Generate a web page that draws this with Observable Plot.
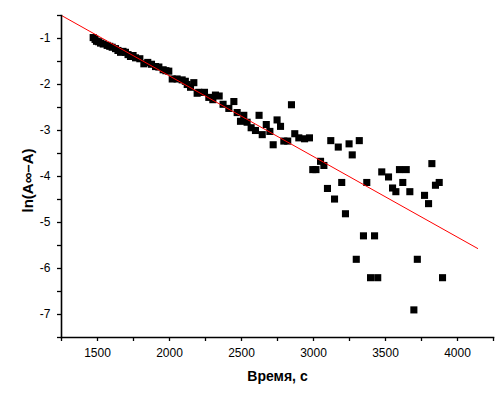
<!DOCTYPE html>
<html><head><meta charset="utf-8">
<script src="https://cdn.jsdelivr.net/npm/d3@7"></script>
<script src="https://cdn.jsdelivr.net/npm/@observablehq/plot@0.6"></script>
<style>body{margin:0;background:#fff}</style>
</head><body><div id="chart"></div>
<script>
const time = [1470,1483,1493,1507,1521,1540,1567,1585,1602,1625,1642,1660,1677,1694,1712,1729,1747,1764,1794,1822,1849,1875,1903,1926,1956,1975,1995,2019,2053,2088,2110,2123,2146,2169,2192,2203,2243,2273,2301,2319,2345,2372,2412,2447,2470,2493,2516,2539,2567,2597,2622,2644,2672,2697,2720,2747,2771,2794,2821,2847,2870,2898,2938,2972,2995,3017,3049,3072,3097,3120,3146,3172,3196,3222,3247,3269,3297,3318,3347,3370,3396,3424,3446,3474,3521,3549,3572,3597,3620,3644,3669,3697,3721,3771,3799,3822,3847,3873,3896];
const lnVal = [-0.98,-1.02,-1.06,-1.07,-1.10,-1.12,-1.15,-1.17,-1.19,-1.22,-1.26,-1.30,-1.28,-1.30,-1.35,-1.39,-1.37,-1.42,-1.44,-1.55,-1.52,-1.56,-1.61,-1.62,-1.68,-1.70,-1.71,-1.88,-1.88,-1.90,-1.93,-2.00,-2.06,-1.96,-2.19,-2.17,-2.17,-2.28,-2.33,-2.23,-2.25,-2.43,-2.52,-2.37,-2.61,-2.80,-2.67,-2.82,-2.94,-3.00,-2.67,-3.09,-2.87,-3.02,-3.31,-2.77,-2.91,-3.23,-3.23,-2.44,-3.07,-3.16,-3.18,-3.16,-3.85,-3.85,-3.67,-3.76,-4.26,-3.22,-4.49,-3.36,-4.13,-4.81,-3.29,-3.53,-5.80,-3.22,-5.29,-4.13,-6.20,-5.29,-6.20,-3.90,-4.01,-4.25,-4.33,-3.85,-4.13,-3.85,-4.33,-6.90,-5.80,-4.41,-4.59,-3.72,-4.19,-4.13,-6.20];
const fitTime = [1250, 4140];
const fitLn = [-0.50, -5.565];
const xTicks = [1500, 2000, 2500, 3000, 3500, 4000];
const xMinor = [1250, 1750, 2250, 2750, 3250, 3750, 4250];
const yTicks = [-7, -6, -5, -4, -3, -2, -1];
const yMinor = [-7.5, -6.5, -5.5, -4.5, -3.5, -2.5, -1.5, -0.5];
const xLabel = "Время, с";
const yLabel = "ln(A∞–A)";

const points = time.map((t, i) => ({t, v: lnVal[i]}));
const fit = fitTime.map((t, i) => ({t, v: fitLn[i]}));
const plain = d => String(d);

const chart = Plot.plot({
  width: 501,
  height: 405,
  marginLeft: 61,
  marginTop: 15,
  marginRight: 8,
  marginBottom: 68,
  style: {fontFamily: "'Liberation Sans', Arial, sans-serif", fontSize: "12px", color: "#000", background: "#fff"},
  x: {domain: [1250, 4250]},
  y: {domain: [-7.5, -0.5]},
  marks: [
    Plot.dot(points, {x: "t", y: "v", symbol: "square", r: 4, fill: "#000", stroke: "none"}),
    Plot.line(fit, {x: "t", y: "v", stroke: "#ff0000", strokeWidth: 1}),
    Plot.frame({anchor: "bottom", strokeWidth: 1.6}),
    Plot.frame({anchor: "left", strokeWidth: 1.6}),
    Plot.axisX(xTicks, {tickSize: 4, tickPadding: 7, strokeWidth: 1.3, tickFormat: plain, label: null}),
    Plot.axisX(xMinor, {tickSize: 4, tickFormat: () => "", strokeWidth: 1.3, label: null}),
    Plot.axisY(yTicks, {tickSize: 4, tickPadding: 7, strokeWidth: 1.3, tickFormat: plain, label: null}),
    Plot.axisY(yMinor, {tickSize: 4, tickFormat: () => "", strokeWidth: 1.3, label: null}),
    Plot.text([xLabel], {frameAnchor: "bottom", dy: 39, textAnchor: "middle", lineAnchor: "middle", fontSize: 14, fontWeight: "bold"}),
    Plot.text([yLabel], {frameAnchor: "left", dx: -33, dy: 4, textAnchor: "middle", lineAnchor: "middle", rotate: -90, fontSize: 15, fontWeight: "bold"})
  ]
});
document.getElementById("chart").appendChild(chart);
</script>
</body></html>
